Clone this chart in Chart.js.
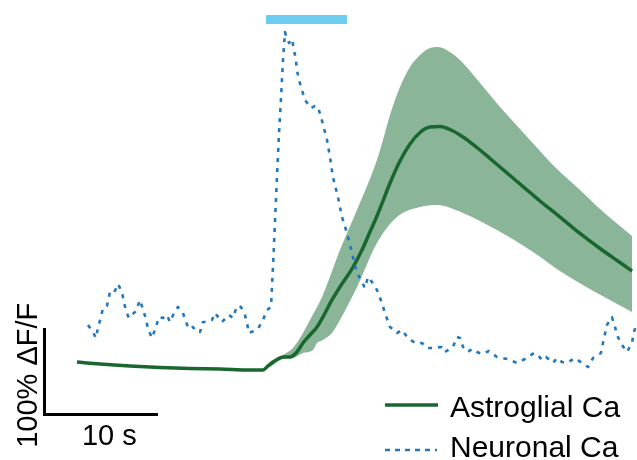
<!DOCTYPE html>
<html>
<head>
<meta charset="utf-8">
<script src="https://cdn.jsdelivr.net/npm/chart.js@4.4.1/dist/chart.umd.min.js"></script>
<style>
html,body{margin:0;padding:0;background:#fff;}
#wrap{width:637px;height:460px;}
</style>
</head>
<body>
<div id="wrap"><canvas id="c" width="637" height="460"></canvas></div>
<script>
// ---- Data (time in s, signal in % dF/F) ----
const astroT = [0,2.03,4.67,7.31,9.96,12.6,15.24,15.95,16.39,16.83,17.27,17.71,18.15,18.77,19.38,19.91,20.53,21.15,21.67,22.47,23.17,24.32,25.11,25.81,26.43,26.96,27.58,28.46,29.34,30.22,31.1,31.98,32.86,33.74,34.63,35.51,36.39,37.27,38.15,39.03,39.91,40.79,41.67,42.56,44.32,46.08,47.84,48.9];
const astroMean = [4.6,2.3,0,-1.7,-2.9,-3.5,-4.6,-4.6,-4.6,0,4.6,8.1,10.4,10.4,16.2,26.6,35.8,45.1,56.6,76.3,91.3,114.4,134.1,154.9,173.4,190.7,211.5,237.0,256.6,269.9,276.3,276.9,273.4,267,258.9,249.7,239.9,230.0,220.2,210.4,200.6,190.7,181.5,172.2,153.2,135.8,119.6,109.8];

const bandUpperT = [16.39,17.0,18.15,19.03,19.91,20.53,21.15,21.67,23.17,24.67,26.43,26.96,27.58,28.46,29.34,30.22,31.1,31.81,32.86,33.74,34.63,35.51,36.39,37.27,38.15,39.03,39.91,40.79,41.67,42.56,44.32,46.08,47.84,48.9];
const bandUpper = [-4.6,2.3,12.7,20.8,38.1,53.2,68.2,82.1,134.1,180.3,238.1,261.3,290.2,322.5,345.6,359.5,367.6,368.8,363,353.7,341.0,327.1,313.3,299.4,286.7,274.0,261.3,248.5,235.8,224.3,203.5,181.5,161.8,150.3];

const bandLowerT = [16.39,17.0,18.15,19.03,19.91,20.79,21.15,21.67,22.47,23.17,24.67,26.43,28.19,30.22,31.72,34.01,37.0,39.91,42.82,45.81,48.9];
const bandLower = [-4.6,-1.2,8.1,9.2,15.0,18.5,26.6,30.1,38.1,53.2,91.3,142.2,172.2,183.8,186.1,176.9,157.2,134.1,107.5,84.4,62.4];

const neuroT = [0.97,1.41,1.67,1.85,2.11,2.29,2.64,2.91,3.26,3.61,3.96,4.14,4.32,4.58,5.2,5.55,5.81,6.08,6.26,6.61,6.96,7.22,7.58,7.93,8.19,8.55,8.9,9.34,9.6,9.87,10.22,10.57,10.84,11.1,11.54,11.89,12.16,12.77,13.39,13.74,14.1,14.45,14.8,14.98,15.15,15.95,16.39,16.74,17.09,17.14,17.18,17.27,17.53,17.8,17.97,18.15,18.28,18.32,18.5,18.68,18.94,19.12,19.29,19.38,19.56,19.82,20.09,20.62,20.97,21.23,21.5,21.76,22.03,22.29,22.55,22.99,23.35,23.79,24.23,24.67,25.11,25.37,25.64,25.99,26.43,26.87,27.13,27.58,28.19,28.63,29.16,29.78,30.39,30.84,31.36,32.16,32.42,33.13,33.48,33.74,34.01,34.45,34.8,35.24,35.68,36.3,37.0,37.88,38.76,39.47,40.26,40.61,40.97,41.32,41.94,42.29,42.73,43.17,43.87,44.49,45.02,45.46,46.16,46.34,46.69,47.13,47.4,47.66,48.01,48.46,48.9,49.07,49.34];
const neuroV = [47.4,39.3,32.4,43.9,56.6,67.0,69.4,85.5,84.4,94.8,85.5,74.0,63.6,55.5,63.6,76.3,65.9,54.3,42.8,32.4,45.1,56.6,55.5,59.0,50.9,61.3,68.2,61.3,50.9,42.8,45.1,39.3,39.3,50.9,50.9,53.2,61.3,50.9,59.0,55.5,69.4,68.2,59.0,49.7,38.1,42.8,53.2,64.7,68.2,79.8,91.3,114.4,191.9,269.3,307.5,353.7,376.9,386.1,379.2,373.4,378.0,365.3,353.7,342.2,330.6,319.1,307.5,298.2,300.6,299.4,287.8,275.1,261.3,241.6,218.5,195.4,172.2,153.7,130.6,107.5,97.1,90.2,102.9,97.1,87.9,72.8,61.3,45.1,38.1,41.6,32.4,26.6,26.6,20.8,20.8,22.0,16.2,22.0,33.5,32.4,22.0,16.2,19.7,16.2,13.9,17.3,10.4,8.1,3.5,8.1,15.0,12.7,6.9,10.4,3.5,9.2,4.6,3.5,9.2,3.5,-1.2,9.2,15.0,26.6,47.4,56.6,45.1,33.5,24.3,16.2,26.6,39.3,49.7];

const stimulus = [16.65, 23.79];   // stimulation period (s)
const stimLevel = 400.5;           // drawn level of stimulus marker
const scaleBarT = 10;              // s
const scaleBarV = 100;             // % dF/F
const labels = {astro: 'Astroglial Ca', neuro: 'Neuronal Ca', time: '10 s', amp: '100% \u0394F/F'};

// ---- Styling ----
const GREEN = '#19672f';
const BAND = '#8ab598';
const BLUE = '#2278bd';
const CYAN = '#6dcdf0';
const FONT = '"Liberation Sans", Arial, sans-serif';

const zip = (xs, ys) => xs.map((x, i) => ({x: x, y: ys[i]}));

const scaleBarPlugin = {
  id: 'scaleBar',
  afterDraw(chart) {
    const {ctx, scales: {x, y}} = chart;
    const t0 = -2.86, v0 = -56.1;
    const px0 = x.getPixelForValue(t0), py0 = y.getPixelForValue(v0);
    const px1 = x.getPixelForValue(t0 + scaleBarT), py1 = y.getPixelForValue(v0 + scaleBarV);
    ctx.save();
    ctx.strokeStyle = '#000';
    ctx.lineWidth = 3;
    ctx.lineJoin = 'miter';
    ctx.lineCap = 'butt';
    ctx.beginPath();
    ctx.moveTo(px0, py1);
    ctx.lineTo(px0, py0);
    ctx.lineTo(px1, py0);
    ctx.stroke();
    ctx.fillStyle = '#000';
    ctx.font = '29px ' + FONT;
    ctx.textAlign = 'left';
    ctx.textBaseline = 'alphabetic';
    ctx.fillText(labels.time, px0 + 37.5, py0 + 30.5);
    ctx.translate(px0 - 7.5, (py0 + py1) / 2 + 4);
    ctx.rotate(-Math.PI / 2);
    ctx.textAlign = 'center';
    ctx.fillText(labels.amp, 0, 0);
    ctx.restore();

    // legend
    ctx.save();
    ctx.font = '30px ' + FONT;
    ctx.fillStyle = '#000';
    ctx.textAlign = 'left';
    ctx.textBaseline = 'alphabetic';
    ctx.strokeStyle = GREEN;
    ctx.lineWidth = 3.5;
    ctx.beginPath(); ctx.moveTo(385, 405); ctx.lineTo(438, 405); ctx.stroke();
    ctx.fillText(labels.astro, 450, 417);
    ctx.strokeStyle = BLUE;
    ctx.lineWidth = 2.7;
    ctx.setLineDash([5, 5]);
    ctx.beginPath(); ctx.moveTo(385, 450); ctx.lineTo(437, 450); ctx.stroke();
    ctx.setLineDash([]);
    ctx.fillText(labels.neuro, 450, 457);
    ctx.restore();
  }
};

new Chart(document.getElementById('c'), {
  type: 'line',
  data: {
    datasets: [
      {label: labels.neuro, data: zip(neuroT, neuroV), borderColor: BLUE, borderWidth: 2.6, borderDash: [4, 6], pointRadius: 0, tension: 0, fill: false, order: 0},
      {label: labels.astro, data: zip(astroT, astroMean), borderColor: GREEN, borderWidth: 3.5, pointRadius: 0, cubicInterpolationMode: 'monotone', fill: false, order: 1},
      {label: 'lower', data: zip(bandLowerT, bandLower), borderWidth: 0, borderColor: 'rgba(0,0,0,0)', pointRadius: 0, cubicInterpolationMode: 'monotone', fill: false, order: 3},
      {label: 'upper', data: zip(bandUpperT, bandUpper), borderWidth: 0, borderColor: 'rgba(0,0,0,0)', backgroundColor: BAND, pointRadius: 0, cubicInterpolationMode: 'monotone', fill: {target: 2}, order: 2},
      {label: 'stim', data: stimulus.map(t => ({x: t, y: stimLevel})), borderColor: CYAN, borderWidth: 9, borderCapStyle: 'butt', pointRadius: 0, fill: false, order: 4}
    ]
  },
  options: {
    responsive: false,
    devicePixelRatio: 1,
    animation: false,
    layout: {padding: 0},
    scales: {
      x: {type: 'linear', display: false, min: -6.78, max: 49.34},
      y: {type: 'linear', display: false, min: -108.7, max: 423.1}
    },
    plugins: {legend: {display: false}, tooltip: {enabled: false}},
    elements: {line: {borderJoinStyle: 'round'}}
  },
  plugins: [scaleBarPlugin]
});
</script>
</body>
</html>
